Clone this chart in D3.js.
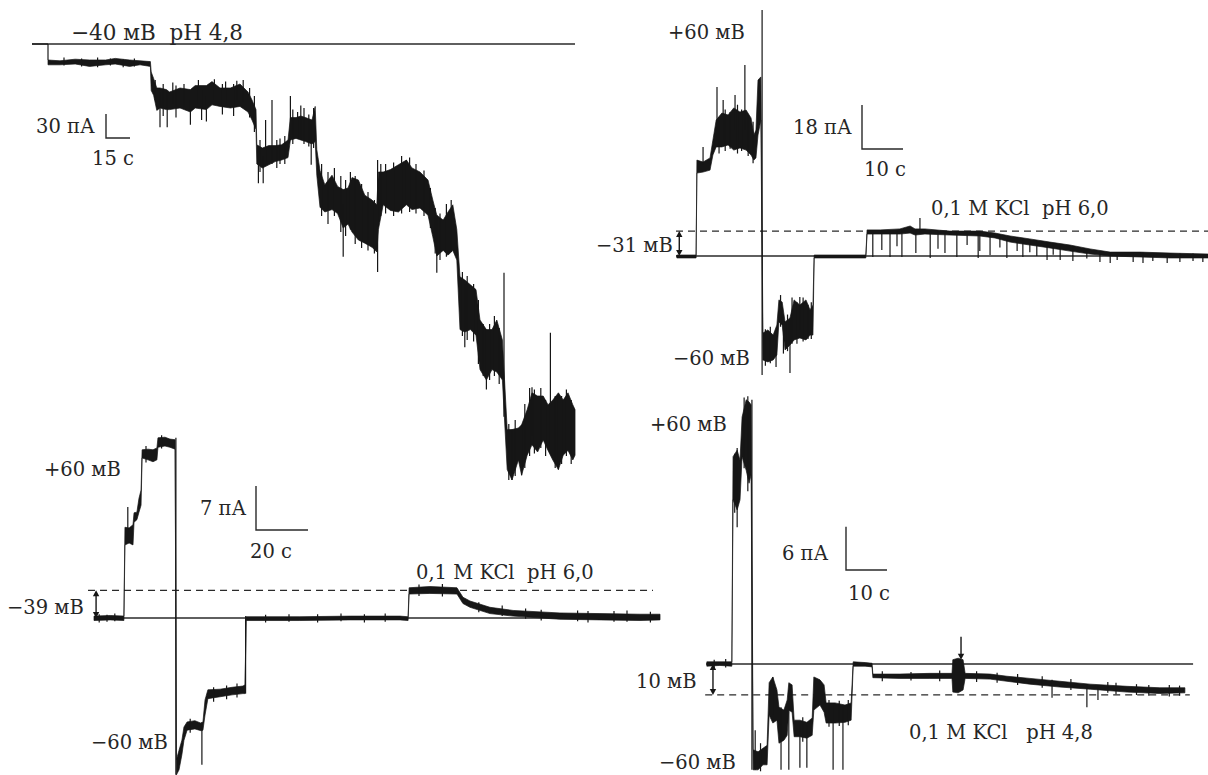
<!DOCTYPE html>
<html><head><meta charset="utf-8">
<script src="https://cdn.jsdelivr.net/npm/d3@7"></script>
<style>
html,body{margin:0;padding:0;background:#fff}
svg text{font-family:"DejaVu Serif",serif;fill:#262626;white-space:pre}
</style>
</head><body>
<svg id="c" width="1208" height="775"></svg>
<script>
// ---------- DATA (time in s, current in pA) ----------
// band points: [t, upper, lower]; spikes: [t, upper, lower]
const p1Band = [[0,0,0],[10,0,0],[10,-20,-26],[17.5,-21,-26],[27,-19,-25],[36,-20,-28],[46,-20,-26],[52,-18,-25],[61,-20,-28],[67.5,-21,-26],[74,-22,-28],
[74.5,-35,-58],[76,-43,-64],[78,-55,-83],[80,-55,-80],[84,-57,-82],[86,-60,-82],[92.5,-55,-80],[99,-57,-85],[102,-52,-80],[109,-52,-82],[112.5,-47,-76],[117.5,-55,-78],[124,-55,-80],[130,-50,-78],[135,-60,-85],[137.5,-70,-95],[140,-82,-107],
[140.5,-126,-150],[144,-130,-155],[148,-127,-151],[152,-127,-147],[156,-126,-145],[160,-120,-142],[161.5,-92,-120],[165,-92,-118],[168,-90,-120],[171,-92,-122],[175,-95,-125],[177,-78,-122],[178,-132,-164],
[180,-158,-204],[183,-176,-210],[187.5,-164,-207],[191,-178,-212],[194.5,-182,-230],[197.5,-180,-225],[200,-167,-235],[204,-170,-245],[208,-189,-249],[212.5,-195,-254],[215.5,-201,-260],
[216.5,-160,-232],[219.5,-160,-201],[224,-157,-208],[229,-151,-210],[234,-145,-201],[237.5,-155,-207],[242.5,-160,-205],[247.5,-170,-214],[250.5,-195,-241],[253,-214,-265],[257,-220,-258],[260,-210,-264],[263,-201,-258],[265.5,-232,-270],
[267.5,-291,-357],[270.5,-295,-360],[274,-301,-357],[277.5,-307,-364],[280,-345,-407],[284,-357,-420],[287.5,-357,-407],[290.5,-345,-410],[294,-370,-420],
[297,-482,-532],[300,-482,-545],[304,-480,-520],[306,-476,-539],[309.5,-457,-514],[312.5,-436,-501],[316,-440,-510],[319.5,-440,-495],[322.5,-451,-508],[325.5,-445,-520],[329,-436,-532],[332,-445,-514],[335,-436,-508],[338,-451,-520],[339.4,-457,-514]];
const p1Spikes = [[80,-60,-104],[84.5,-60,-104],[99,-70,-101],[109,-65,-97],[141.5,-140,-174],[144.5,-140,-174],[150,-70,-150],[161.5,-65,-120],[168,-77,-120],[174.5,-100,-151],
[194.5,-200,-266],[216,-145,-285],[234,-145,-200],[253,-214,-286],[270.5,-300,-379],[284,-357,-432],[295,-286,-466],[300,-482,-545],[306,-476,-539],[312.5,-429,-490],[324,-361,-511],[329,-440,-532],
[20,-17,-27],[31,-18,-28],[41,-17,-29],[49,-18,-27],[57,-19,-29],[64,-18,-28],
[77,-45,-70],[82,-50,-90],[88,-48,-75],[90,-52,-92],[95,-50,-78],[104,-45,-75],[106,-58,-95],[114,-44,-70],[119,-50,-88],[121,-47,-75],[126,-50,-90],[128,-46,-70],[132,-45,-72],[136,-55,-92],[139,-65,-110],
[142.5,-120,-160],[146,-95,-150],[153,-120,-155],[155,-118,-150],[158,-115,-150],
[163,-82,-125],[166,-85,-118],[170,-80,-125],[173,-88,-128],[176,-80,-130],
[181,-150,-215],[185,-160,-225],[189,-155,-215],[193,-165,-235],[196,-170,-240],[199,-160,-232],[202,-165,-250],[206,-175,-255],[210,-185,-258],[214,-195,-262],
[218,-150,-215],[221,-150,-212],[226,-148,-215],[231,-140,-212],[236,-142,-210],[240,-150,-212],[245,-158,-215],[249,-180,-230],[252,-205,-262],[255,-212,-270],[259,-200,-266],[262,-195,-260],
[269,-285,-365],[272,-290,-370],[276,-300,-372],[279,-320,-400],[282,-350,-415],[286,-350,-420],[289,-340,-415],[292,-355,-425],
[298,-475,-545],[302,-470,-540],[308,-450,-530],[311,-430,-515],[314,-432,-512],[318,-430,-505],[321,-445,-515],[327,-440,-530],[331,-440,-525],[334,-432,-515],[337,-445,-525]];

const p2Band = [[0.2,0.4,-0.8],[4.9,0.4,-0.8],[5.1,39.3,34.0],[6.6,38.5,34.4],[8.3,40.2,35.2],[9.0,47.5,41.4],[9.8,55.7,44.7],[11.2,58.6,44.7],[12.7,57.8,45.5],[14.1,60.7,43.4],[15.6,59.0,44.3],[17.1,59.8,43.4],[18.3,56.6,41.4],[19.0,49.6,39.3],[19.5,51.6,40.2],[20.0,72.1,49.6],[20.7,73.4,55.7],
[21.2,-31.6,-42.6],[22.4,-30.3,-43.4],[23.7,-32.4,-42.6],[24.6,-28.3,-40.6],[25.1,-18.0,-27.0],[25.9,-18.9,-28.3],[26.6,-27.0,-38.5],[27.8,-25.4,-36.5],[28.8,-18.0,-34.4],[30.2,-20.1,-33.6],[31.7,-18.0,-34.4],[32.7,-22.1,-32.4],[33.4,-20.1,-32.4],
[33.7,0.4,-0.8],[46.3,0.4,-0.8],[46.6,10.7,9.0],[49.8,10.7,9.0],[54.6,11.1,9.0],[57.1,12.3,9.4],[58.3,11.1,8.6],[60.7,11.1,9.0],[66.8,10.2,8.6],[74.1,10.2,8.2],[77.8,9.4,7.4],[81.5,8.2,5.7],[86.3,7.0,4.5],[91.2,5.7,3.3],[96.1,4.5,2.0],[101.0,2.9,0.8],[105.9,1.6,0],[113.2,1.6,-0.4],[120.5,1.2,-0.8],[129.8,0.8,-0.8]];
const p2Spikes = [[6.6,44.7,37.3],[10.0,69.3,47.5],[11.5,63.9,47.5],[14.4,66.0,51.6],[16.8,78.3,51.6],[21.0,100.8,-48.8],[24.4,-34.4,-45.5],[27.8,-26.2,-48.0],[30.2,-16.8,-30.3],
[10.5,57,42],[12,60,43],[13.2,59,44],[15,62,42],[16,60,43],[17.6,58,41],[18.8,55,38],
[21.8,-30,-45],[23,-29,-44],[25.5,-16,-29],[26.2,-25,-40],[27.2,-24,-39],[28.3,-17,-36],[29.5,-19,-36],[31,-17,-35],[32.2,-20,-34],[33,-19,-34],
[48.0,10,-0.4],[50.2,10,2.5],[52.2,10,-0.4],[53.9,10,4.0],[55.1,10,-0.4],[58.5,11,1.2],[59.5,15.6,9],[62.0,10,-0.8],[63.9,10,3.0],[65.6,10,1.2],[68.5,9.5,-0.4],[71.0,9.5,4.5],[73.7,9.5,-0.8],[74.1,9.5,2.0],[76.6,9,0.4],[79.0,8.5,3.5],[80.7,8,-0.8],[83.2,7.5,2.0],[84.6,7,-0.4],[86.3,6.5,1.5],[88.0,6,0],[90.5,5.5,-1.6],[92.0,5,0.5],[93.7,4.5,-1.6],[96.8,4,-2.0],[100.2,3,-1.0],[103.4,2,-2.5],[105.9,1.6,-2.9],[107.6,1.6,-1.6],[111.5,1.4,-2.5],[113.9,1.4,-2.9],[116.3,1.2,-2.0],[119.8,1.2,-2.9],[122.9,1.0,-2.5],[126.1,1.0,-2.0],[128.5,0.8,-2.5]];

const p3Band = [[0,0.3,-0.4],[6.2,0.4,-0.3],[11.5,0.3,-0.4],[11.9,14.4,11.6],[13.5,14.3,11.9],[15.0,14.8,11.6],[15.4,16.7,15.2],[16.5,16.8,15.6],[17.3,19.0,16.8],[18.1,20.3,17.9],[18.5,26.7,25.4],[20.8,26.8,25.1],[22.7,26.7,24.8],[24.2,27.0,25.1],[24.6,28.6,27.1],[27.3,28.7,27.3],[29.2,28.4,27.1],[31.2,28.3,26.8],
[31.7,-22.5,-24.9],[32.7,-21.0,-24.1],[33.8,-19.4,-21.7],[34.6,-17.3,-19.4],[35.8,-16.5,-17.8],[38.8,-16.3,-17.6],[41.2,-16.7,-17.9],[41.9,-16.5,-17.8],[42.7,-13.0,-15.4],[43.8,-11.4,-12.8],[48.5,-11.3,-12.5],[53.1,-11.0,-12.2],[57.3,-10.8,-12.0],[58.1,-10.6,-12.0],
[58.5,0.2,-0.4],[79.2,0.2,-0.4],[98.5,0.3,-0.3],[117.7,0.3,-0.3],[120.8,0.2,-0.4],[121.2,4.8,3.8],[129.2,5.0,3.9],[139.6,4.8,3.8],[141.9,3.3,2.3],[144.6,2.7,1.7],[152.3,1.7,0.7],[161.2,1.2,0.3],[179.2,0.8,-0.2],[194.6,0.7,-0.3],[210,0.6,-0.4],[217.7,0.6,-0.3]];
const p3Spikes = [[13.0,17.6,13.0],[31.5,28.6,-24.9],[41.5,-16.5,-23.3],[58.3,0.3,-12.0],
[2,0.6,-0.7],[5,0.5,-0.6],[8,0.7,-0.5],[20,27.3,24.7],[26,29.0,26.9],[37,-16.0,-18.2],[46,-11.0,-13.3],[51,-10.7,-12.9],[55,-10.4,-12.6],
[66,0.5,-0.7],[75,0.6,-0.6],[86,0.6,-0.7],[95,0.7,-0.5],[104,0.6,-0.7],[112,0.7,-0.6],[125,5.3,3.5],[134,5.4,3.4],[148,2.5,0.9],[157,2.0,0.3],[166,1.5,-0.1],[172,1.3,-0.4],[186,1.2,-0.5],[190,1.1,-0.7],[200,1.1,-0.6],[205,1.2,-0.6],[214,1.0,-0.7]];

const p4Band = [[0.2,0.3,-0.3],[3.4,0.3,-0.2],[6.3,0.3,-0.3],[6.6,28.8,22.8],[7.6,29.7,21.4],[8.3,28.3,22.8],[8.8,34.3,28.8],[9.8,36.7,26.9],[10.5,36.4,25.1],[11.0,36.0,26.3],
[11.5,-11.9,-14.7],[12.7,-12.2,-14.7],[13.9,-11.7,-14.0],[14.9,-11.3,-14.0],[15.4,-2.6,-7.1],[16.3,-1.8,-8.2],[17.3,-3.6,-7.8],[17.8,-6.0,-11.0],[19.0,-6.4,-10.6],[19.8,-5.0,-9.9],[20.2,-2.6,-6.4],[21.0,-2.9,-6.7],[21.5,-7.8,-10.1],[22.9,-7.8,-10.1],[24.6,-8.1,-10.3],[25.9,-7.5,-9.9],[26.3,-1.8,-6.4],[27.8,-2.2,-5.7],[28.8,-2.9,-6.7],[29.3,-5.4,-8.2],[31.5,-5.4,-8.2],[33.9,-5.7,-8.1],[35.4,-5.4,-7.8],
[35.9,0.3,-0.3],[38.8,0.2,-0.3],[40.5,0.1,-0.4],[40.7,-1.4,-1.9],[47.3,-1.4,-2.0],[54.6,-1.3,-2.0],[60.0,-1.3,-2.0],[60.2,0.6,-3.9],[61.5,0.8,-4.0],[62.7,0.6,-3.6],[63.2,-1.3,-2.0],[69.3,-1.4,-2.1],[73.4,-1.7,-2.4],[79.0,-2.0,-2.8],[86.3,-2.4,-3.2],[93.7,-2.8,-3.5],[102.7,-3.1,-3.9],[110.7,-3.3,-4.1],[116.8,-3.3,-4.0]];
const p4Spikes = [[7.6,30.0,19.0],[11.2,36.7,-14.7],[12.0,-9.2,-14.7],[16.3,-1.8,-7.0],[18.3,-6.0,-14.7],[20.2,-3.6,-14.7],[22.9,-8.5,-14.4],[24.6,-8.5,-14.4],[31.0,-5.7,-14.7],[33.4,-6.0,-14.7],[84.4,-2.2,-4.7],[92.9,-2.8,-6.0],[95.6,-2.9,-5.0],
[7.0,29.2,21.0],[9.3,37.0,27.2],[10.2,37.2,24.0],[13.3,-11.0,-14.9],[23.6,-7.4,-10.8],[30,-5.0,-8.7],[32.5,-5.1,-8.6],[34.7,-5.0,-8.5],
[2,0.6,-0.6],[4.8,0.7,-0.5],[43,-1.0,-2.4],[50,-1.1,-2.3],[57,-0.9,-2.4],[66,-1.0,-2.5],[71,-1.2,-2.6],[76,-1.4,-2.9],[82,-1.7,-3.3],[89,-2.1,-3.6],[98,-2.5,-4.0],[100,-2.6,-4.2],[105,-2.8,-4.3],[108,-2.9,-4.4],[113,-2.9,-4.5],[115.5,-3.0,-4.4]];

// reference levels (pA): [solid zero line, dashed level]
const p1RefLevels = [0];
const p2RefLevels = [0, 10.2];
const p3RefLevels = [0, 4.4];
const p4RefLevels = [0, -4.3];

// scale bars
const scaleBarPA = [30, 18, 7, 6];
const scaleBarS  = [15, 10, 20, 10];
const scaleBarPALabels = ["30 пА", "18 пА", "7 пА", "6 пА"];
const scaleBarSLabels  = ["15 с", "10 с", "20 с", "10 с"];

// annotations
const p1Labels = ["−40 мВ  pH 4,8"];
const p2Labels = ["+60 мВ", "−31 мВ", "0,1 M KCl  pH 6,0", "−60 мВ"];
const p3Labels = ["+60 мВ", "−39 мВ", "0,1 M KCl  pH 6,0", "−60 мВ"];
const p4Labels = ["+60 мВ", "10 мВ", "0,1 M KCl   pH 4,8", "−60 мВ"];
const p4MarkerTime = [62.2];

// ---------- LAYOUT ----------
const svg = d3.select("#c");
svg.append("rect").attr("width",1208).attr("height",775).attr("fill","#fff");
const INK = "#161616";
const FS = 19.5;

const panels = [
  {band:p1Band, spikes:p1Spikes, refs:p1RefLevels, x0:32, kx:1.6, y0:44, ky:0.8,
   solid:[0,339.4], dashed:null, arrowT:null, bar:[106,138],
   barPA:{x:36,y:133}, barS:{x:92,y:165},
   labels:[[p1Labels[0],71,40,21.5]]},
  {band:p2Band, spikes:p2Spikes, refs:p2RefLevels, x0:676, kx:4.1, y0:256, ky:2.44,
   solid:[0,129.8], dashed:[0,129.8], arrowT:0.8, bar:[862,149],
   barPA:{x:793,y:134}, barS:{x:864,y:176},
   labels:[[p2Labels[0],668,39],[p2Labels[1],596,252],[p2Labels[2],931,215],[p2Labels[3],673,365]]},
  {band:p3Band, spikes:p3Spikes, refs:p3RefLevels, x0:94, kx:2.6, y0:618, ky:6.3,
   solid:[0,217.7], dashed:[-2.3,215], arrowT:0.8, bar:[256,530],
   barPA:{x:200,y:515}, barS:{x:250,y:558},
   labels:[[p3Labels[0],44,476],[p3Labels[1],7,614],[p3Labels[2],416,579],[p3Labels[3],91,749]]},
  {band:p4Band, spikes:p4Spikes, refs:p4RefLevels, x0:706, kx:4.1, y0:664, ky:7.2,
   solid:[0,118.8], dashed:[-0.2,118], arrowT:1.7, bar:[846,570],
   barPA:{x:782,y:560}, barS:{x:848,y:600},
   labels:[[p4Labels[0],650,431],[p4Labels[1],636,688],[p4Labels[2],909,739],[p4Labels[3],659,769]]}
];

function head(g, x, y, dir){ // dir -1 up, +1 down; tip at (x,y)
  g.append("path").attr("d",`M${x},${y} L${x-3.2},${y-dir*6} L${x+3.2},${y-dir*6} Z`).attr("fill",INK);
}

panels.forEach((p,i)=>{
  const x = d3.scaleLinear().domain([0,100]).range([p.x0, p.x0+100*p.kx]);
  const y = d3.scaleLinear().domain([0,100]).range([p.y0, p.y0-100*p.ky]);
  const g = svg.append("g");

  // reference lines
  g.append("line").attr("x1",x(p.solid[0])).attr("x2",x(p.solid[1]))
    .attr("y1",y(p.refs[0])).attr("y2",y(p.refs[0])).attr("stroke","#2a2a2a").attr("stroke-width",1.3);
  if(p.dashed){
    g.append("line").attr("x1",x(p.dashed[0])).attr("x2",x(p.dashed[1]))
      .attr("y1",y(p.refs[1])).attr("y2",y(p.refs[1])).attr("stroke","#2a2a2a").attr("stroke-width",1.3)
      .attr("stroke-dasharray","7,5");
  }

  // trace band
  const area = d3.area().x(d=>x(d[0])).y0(d=>y(d[2])).y1(d=>y(d[1])).curve(d3.curveLinear);
  g.append("path").datum(p.band).attr("d",area).attr("fill",INK).attr("stroke",INK).attr("stroke-width",0.7).attr("stroke-linejoin","round");
  // spikes
  g.selectAll("line.sp").data(p.spikes).enter().append("line").attr("class","sp")
    .attr("x1",d=>x(d[0])).attr("x2",d=>x(d[0])).attr("y1",d=>y(d[1])).attr("y2",d=>y(d[2]))
    .attr("stroke",INK).attr("stroke-width",1.2);

  // double arrow between levels
  if(p.arrowT!==null){
    const ax = x(p.arrowT), ya = y(p.refs[0]), yb = y(p.refs[1]);
    const top = Math.min(ya,yb), bot = Math.max(ya,yb);
    g.append("line").attr("x1",ax).attr("x2",ax).attr("y1",top+3).attr("y2",bot-3).attr("stroke",INK).attr("stroke-width",1.4);
    head(g, ax, top, -1); head(g, ax, bot, 1);
  }

  // scale bar
  const bx = p.bar[0], by = p.bar[1];
  const vLen = y(0)-y(scaleBarPA[i]), hLen = x(scaleBarS[i])-x(0);
  g.append("path").attr("d",`M${bx},${by-vLen} L${bx},${by} L${bx+hLen},${by}`)
    .attr("fill","none").attr("stroke","#2a2a2a").attr("stroke-width",1.4);
  g.append("text").attr("x",p.barPA.x).attr("y",p.barPA.y).attr("font-size",FS).text(scaleBarPALabels[i]);
  g.append("text").attr("x",p.barS.x).attr("y",p.barS.y).attr("font-size",FS).text(scaleBarSLabels[i]);

  // labels
  p.labels.forEach(l=>{
    g.append("text").attr("x",l[1]).attr("y",l[2]).attr("font-size",l[3]||FS).text(l[0]);
  });

  // marker arrow (panel 4)
  if(i===3){
    p4MarkerTime.forEach(t=>{
      const mx = x(t);
      g.append("line").attr("x1",mx).attr("x2",mx).attr("y1",y(3.8)).attr("y2",y(1.2)).attr("stroke",INK).attr("stroke-width",1.4);
      head(g, mx, y(0.6), 1);
    });
  }
});
</script>
</body></html>
